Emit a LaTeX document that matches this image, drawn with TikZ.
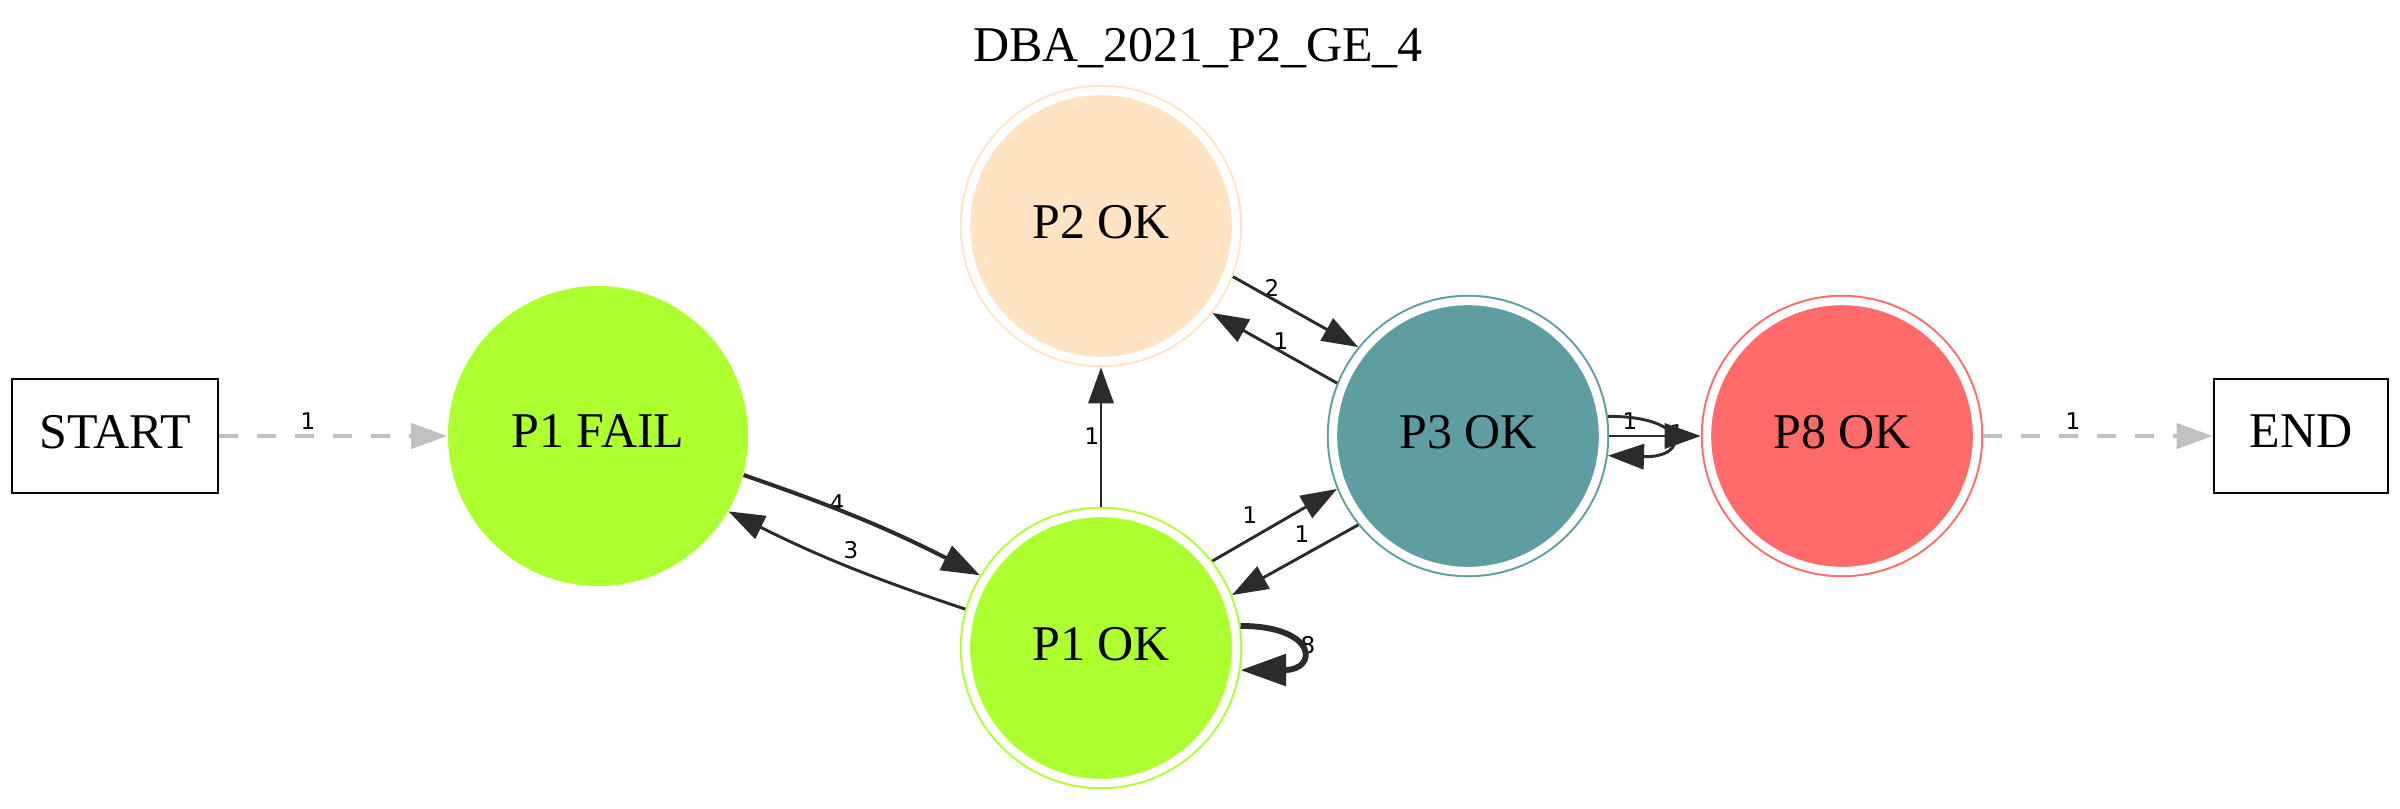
\documentclass[tikz,border=0pt]{standalone}
\usepackage{fontspec}
\setmainfont{Liberation Serif}
\newfontfamily\lblfont{DejaVu Sans}
\usetikzlibrary{arrows.meta}
\definecolor{gy}{HTML}{ADFF2F}
\definecolor{bq}{HTML}{FFE4C4}
\definecolor{cb}{HTML}{5F9EA0}
\definecolor{ir}{HTML}{FF6A6A}
\definecolor{ec}{HTML}{2B2B2B}
\definecolor{dg}{HTML}{C0C0C0}
\begin{document}
\begin{tikzpicture}[x=0.274pt, y=-0.274pt,
 nodefont/.style={font=\fontsize{13.7}{16}\selectfont, text depth=2.5pt},
 dbl/.style={circle, nodefont, minimum size=74pt, inner sep=0pt, fill=#1, draw=#1, line width=0.55pt, double=white, double distance=2.3pt, outer sep=1.7pt},
 single/.style={circle, nodefont, minimum size=82.2pt, inner sep=0pt, fill=#1},
 box/.style={draw=black, line width=0.7pt, nodefont, minimum height=31.2pt, inner sep=0pt},
 lbl/.style={font=\lblfont\fontsize{6.3}{7}\selectfont, inner sep=0pt},
 ed/.style={draw=ec, line width=0.8pt, -{Triangle[length=9.9pt,width=6.9pt]}},
 edm/.style={draw=ec, line width=1.1pt, -{Triangle[length=10.5pt,width=7.3pt]}},
 edb/.style={draw=ec, line width=1.6pt, -{Triangle[length=12.5pt,width=8.5pt]}},
 dsh/.style={draw=dg, line width=1.1pt, dash pattern=on 5.2pt off 5.2pt, -{Triangle[length=9.9pt,width=6.9pt]}}
]
\useasboundingbox (0,0) rectangle (2400,808);
% nodes
\node[nodefont, anchor=base] (title) at (1198,61) {DBA\_2021\_P2\_GE\_4};
\node[box, minimum width=56.4pt] (start) at (115,436) {START};
\node[box, minimum width=47.7pt] (end) at (2301,436) {END};
\node[single=gy] (p1fail) at (598,436) {P1 FAIL};
\node[dbl=gy] (p1ok) at (1101,648) {P1 OK};
\node[dbl=bq] (p2ok) at (1101,226) {P2 OK};
\node[dbl=cb] (p3ok) at (1468,436) {P3 OK};
\node[dbl=ir] (p8ok) at (1842,436) {P8 OK};
% labels
\node[lbl] (ls) at (308,421) {1};
\node[lbl] (l4) at (837,503) {4};
\node[lbl] (l3) at (851,550) {3};
\node[lbl] (l12) at (1092,436) {1};
\node[lbl] (l23) at (1272,288) {2};
\node[lbl] (l32) at (1281,341) {1};
\node[lbl] (l13) at (1250,515) {1};
\node[lbl] (l31) at (1302,534) {1};
\node[lbl] (l11) at (1308,645) {8};
\node[lbl] (l33) at (1630,421) {1};
\node[lbl] (l38) at (1677,433) {1};
\node[lbl] (le) at (2073,421) {1};
% edges
\draw[dsh] (start.east) -- (p1fail.west);
\draw[dsh] (p8ok.east) -- (end.west);
\draw[edm] (p1fail.-15) to[bend left=4] (p1ok.149);
\draw[ed] (p1ok.164) to[bend left=4] (p1fail.-30);
\draw[ed] (p1ok.north) -- (p2ok.south);
\draw[ed] (p2ok.-21.5) -- (p3ok.141.8);
\draw[ed] (p3ok.158.4) -- (p2ok.-38);
\draw[ed] (p1ok.38.7) -- (p3ok.-158.3);
\draw[ed] (p3ok.-141.7) -- (p1ok.22.2);
\draw[edb] (p1ok.9) .. controls (1318,626) and (1318,670) .. (p1ok.-9);
\draw[ed] (p3ok.8.4) .. controls (1690,416) and (1690,458) .. (p3ok.-8.9);
\draw[ed] (p3ok.east) -- (p8ok.west);
\end{tikzpicture}
\end{document}
